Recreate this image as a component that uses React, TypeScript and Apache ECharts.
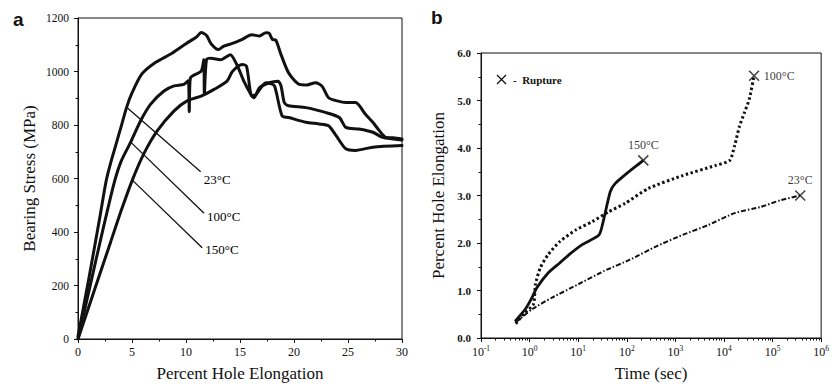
import React, { useEffect, useRef } from "react";
import * as echarts from "echarts";

// ---------- Panel a: Bearing stress vs percent hole elongation ----------
const stressXTicks = [0, 5, 10, 15, 20, 25, 30];
const stressYTicks = [0, 200, 400, 600, 800, 1000, 1200];

const curve23C: number[][] = [
  [0, 10], [1.0, 225], [2.0, 450], [2.6, 590], [3.0, 655], [3.5, 725], [4.0, 795], [4.5, 866], [5.0, 920], [5.9, 990],
  [7.1, 1032], [8.7, 1068], [10.0, 1104], [11.0, 1130],
  [11.4, 1146], [11.9, 1135], [12.3, 1105], [13.0, 1082], [13.5, 1095], [14.3, 1105], [15.1, 1118],
  [16.1, 1137], [16.8, 1133], [17.4, 1145], [17.7, 1143], [18.0, 1120], [18.3, 1118], [18.8, 1063],
  [19.5, 995], [20.5, 952], [21.2, 950], [22.0, 958], [22.6, 945], [23.2, 902], [24.0, 890],
  [24.8, 884], [25.7, 884], [26.6, 841], [27.3, 810], [27.9, 779], [28.5, 754], [29.2, 752], [30, 748],
];
const curve100C: number[][] = [
  [0, 0], [1.1, 195], [2.2, 390], [3.33, 581], [4.0, 665], [4.88, 736], [5.8, 816], [6.73, 878],
  [7.96, 927], [8.9, 946], [9.8, 952], [10.2, 965], [10.3, 850], [10.4, 975], [11.4, 1001],
  [11.65, 1045], [11.7, 915], [11.9, 1045], [12.3, 1050], [13.2, 1044], [14.1, 1063], [14.7, 1026],
  [15.4, 960], [16.0, 915], [16.3, 902], [16.8, 939], [17.7, 958], [18.5, 964], [18.8, 946],
  [19.1, 884], [19.5, 872], [21.1, 865], [22.9, 847], [24.2, 828], [24.8, 791], [26.0, 785],
  [27.3, 773], [28.2, 754], [30, 744],
];
const curve150C: number[][] = [
  [0, 0], [1.5, 180], [3.0, 360], [4.0, 480], [5.03, 594], [6.1, 693], [7.35, 779], [8.9, 853],
  [10.1, 890], [11.4, 908], [12.6, 933], [13.8, 964], [14.3, 1000], [15.2, 1026], [15.6, 1020],
  [16.1, 908], [16.5, 915], [17.4, 958], [17.8, 955], [18.2, 946], [18.9, 834], [19.5, 828],
  [21.1, 810], [22.3, 804], [23.2, 797], [23.9, 760], [24.8, 711], [25.7, 705], [27.3, 717], [30, 723],
];
const leaderNames = ["23°C", "100°C", "150°C"];
const leader23: number[][] = [[4.5, 866], [11.36, 625]];
const leader100: number[][] = [[4.88, 736], [11.67, 470]];
const leader150: number[][] = [[5.03, 594], [11.5, 341]];

// ---------- Panel b: Percent hole elongation vs time ----------
const timeExponents = [-1, 0, 1, 2, 3, 4, 5, 6];
const elongTicks = [0, 1, 2, 3, 4, 5, 6];

const creep150C: number[][] = [
  [0.5, 0.35], [0.82, 0.61], [1.12, 0.85], [1.41, 1.06], [2.43, 1.375], [4.17, 1.58], [6.6, 1.76],
  [12.3, 1.97], [26.9, 2.17], [33.9, 2.52], [45.7, 3.08], [57.5, 3.25], [107, 3.49], [219, 3.74],
];
const creep100C: number[][] = [
  [0.52, 0.3], [0.76, 0.51], [1.2, 0.71], [1.32, 1.13], [1.66, 1.48], [2.43, 1.76], [4.17, 2.03],
  [9.1, 2.28], [19.5, 2.45], [42.7, 2.66], [91, 2.83], [280, 3.15], [1413, 3.42], [6600, 3.63],
  [13200, 3.74], [16600, 4.05], [20900, 4.46], [26300, 4.74], [33100, 5.02], [41700, 5.52],
];
const creep23C: number[][] = [
  [0.52, 0.33], [1.14, 0.61], [2.9, 0.85], [10, 1.13], [34, 1.41], [117, 1.65], [407, 1.93],
  [1413, 2.17], [4790, 2.38], [16600, 2.63], [57500, 2.76], [145000, 2.9], [372000, 3.0],
];
const ruptureLabels = ["150°C", "100°C", "23°C"];
const rupturePoints: number[][] = [[219, 3.74], [41700, 5.52], [372000, 3.0]];
const ruptureLabelPos = ["top", "right", "top"];
const legendText = "-  Rupture";

const SERIF = '"Liberation Serif", "Times New Roman", serif';
const SANS = '"Liberation Sans", Arial, sans-serif';
const BLACK = "#111";

function minorLogTicks(): number[] {
  const out: number[] = [];
  for (let e = timeExponents[0]; e < timeExponents[timeExponents.length - 1]; e++) {
    for (let k = 2; k <= 9; k++) out.push(Math.log10(k * Math.pow(10, e)));
  }
  return out;
}

export default function App() {
  const ref = useRef<HTMLDivElement>(null);
  useEffect(() => {
    if (!ref.current) return;
    const chart = echarts.init(ref.current, undefined, { renderer: "svg" });
    const axisLine = { show: true, onZero: false, lineStyle: { color: BLACK, width: 1 } };
    const tick = { show: true, length: 4, lineStyle: { color: BLACK, width: 1 } };
    const minor = { show: true, splitNumber: 2, length: 2.5, lineStyle: { color: BLACK, width: 1 } };
    const thick = { color: BLACK, width: 3, join: "round", cap: "round" };
    const blackItem = { color: BLACK };

    const leaderSeries = (data: number[][], name: string, offset: number[]) => ({
      type: "line",
      xAxisIndex: 0,
      yAxisIndex: 0,
      showSymbol: false,
      symbol: "none",
      itemStyle: blackItem,
      lineStyle: { color: BLACK, width: 1.3 },
      data,
      endLabel: {
        show: true,
        distance: 3,
        offset,
        formatter: name,
        fontFamily: SERIF,
        fontSize: 13,
        color: "#000",
      },
      silent: true,
    });

    const option: any = {
      animation: false,
      backgroundColor: "#fff",
      color: [BLACK],
      grid: [
        { left: 78, top: 18, width: 324, height: 324, show: true, borderColor: BLACK, borderWidth: 1, backgroundColor: "transparent" },
        { left: 481, top: 53, width: 347, height: 288, show: true, borderColor: BLACK, borderWidth: 1, backgroundColor: "transparent" },
      ],
      xAxis: [
        {
          gridIndex: 0,
          type: "value",
          min: stressXTicks[0],
          max: stressXTicks[stressXTicks.length - 1],
          interval: stressXTicks[1] - stressXTicks[0],
          name: "Percent Hole Elongation",
          nameLocation: "middle",
          nameGap: 26,
          nameTextStyle: { fontFamily: SERIF, fontSize: 17, color: BLACK },
          axisLine,
          axisTick: tick,
          minorTick: minor,
          axisLabel: { fontFamily: SERIF, fontSize: 12, color: BLACK, margin: 7 },
          splitLine: { show: false },
        },
        {
          gridIndex: 1,
          type: "log",
          logBase: 10,
          min: Math.pow(10, timeExponents[0]),
          max: Math.pow(10, timeExponents[timeExponents.length - 1]),
          name: "Time (sec)",
          nameLocation: "middle",
          nameGap: 27,
          nameTextStyle: { fontFamily: SERIF, fontSize: 17, color: BLACK },
          axisLine,
          axisTick: tick,
          axisLabel: {
            margin: 6,
            formatter: (v: number) => `{b|10}{s|${Math.round(Math.log10(v))}}`,
            rich: {
              b: { fontFamily: SERIF, fontSize: 12, color: BLACK, lineHeight: 15 },
              s: { fontFamily: SERIF, fontSize: 7.5, color: BLACK, verticalAlign: "top", lineHeight: 8 },
            },
          },
          splitLine: { show: false },
        },
        {
          gridIndex: 1,
          type: "value",
          min: timeExponents[0],
          max: timeExponents[timeExponents.length - 1],
          position: "bottom",
          axisLine: { show: false, onZero: false },
          axisLabel: { show: false },
          splitLine: { show: false },
          axisTick: { show: true, length: 2.5, customValues: minorLogTicks(), lineStyle: { color: BLACK, width: 1 } },
        },
      ],
      yAxis: [
        {
          gridIndex: 0,
          type: "value",
          min: stressYTicks[0],
          max: stressYTicks[stressYTicks.length - 1],
          interval: stressYTicks[1] - stressYTicks[0],
          name: "Bearing Stress (MPa)",
          nameLocation: "middle",
          nameGap: 40,
          nameTextStyle: { fontFamily: SERIF, fontSize: 17, color: BLACK },
          axisLine,
          axisTick: tick,
          minorTick: minor,
          axisLabel: { fontFamily: SERIF, fontSize: 11.5, color: BLACK, margin: 9, formatter: (v: number) => String(v) },
          splitLine: { show: false },
        },
        {
          gridIndex: 1,
          type: "value",
          min: elongTicks[0],
          max: elongTicks[elongTicks.length - 1],
          interval: elongTicks[1] - elongTicks[0],
          name: "Percent Hole Elongation",
          nameLocation: "middle",
          nameGap: 34,
          nameTextStyle: { fontFamily: SERIF, fontSize: 17, color: BLACK },
          axisLine,
          axisTick: tick,
          minorTick: minor,
          axisLabel: {
            fontFamily: SERIF,
            fontSize: 11,
            fontWeight: "bold",
            color: BLACK,
            margin: 10,
            formatter: (v: number) => v.toFixed(1),
          },
          splitLine: { show: false },
        },
      ],
      series: [
        { type: "line", name: "23°C", xAxisIndex: 0, yAxisIndex: 0, showSymbol: false, symbol: "none", smooth: 0.25, itemStyle: blackItem, lineStyle: thick, data: curve23C },
        { type: "line", name: "100°C", xAxisIndex: 0, yAxisIndex: 0, showSymbol: false, symbol: "none", smooth: 0.25, itemStyle: blackItem, lineStyle: thick, data: curve100C },
        { type: "line", name: "150°C", xAxisIndex: 0, yAxisIndex: 0, showSymbol: false, symbol: "none", smooth: 0.25, itemStyle: blackItem, lineStyle: thick, data: curve150C },
        leaderSeries(leader23, leaderNames[0], [0, 8]),
        leaderSeries(leader100, leaderNames[1], [0, 3]),
        leaderSeries(leader150, leaderNames[2], [0, 2]),
        {
          type: "line", name: "150°C creep", xAxisIndex: 1, yAxisIndex: 1, showSymbol: false, symbol: "none", smooth: 0.2,
          itemStyle: blackItem, lineStyle: { color: BLACK, width: 2.8, join: "round" }, data: creep150C,
        },
        {
          type: "line", name: "100°C creep", xAxisIndex: 1, yAxisIndex: 1, showSymbol: false, symbol: "none", smooth: 0.2,
          itemStyle: blackItem, lineStyle: { color: BLACK, width: 3, type: [2.5, 2.5] }, data: creep100C,
        },
        {
          type: "line", name: "23°C creep", xAxisIndex: 1, yAxisIndex: 1, showSymbol: false, symbol: "none", smooth: 0.2,
          itemStyle: blackItem, lineStyle: { color: BLACK, width: 2, type: [5, 2, 1.5, 2] }, data: creep23C,
        },
        {
          type: "scatter", name: "Rupture", xAxisIndex: 1, yAxisIndex: 1,
          symbol: "path://M0,0L10,10M10,0L0,10", symbolSize: 10,
          itemStyle: { color: "transparent", borderColor: BLACK, borderWidth: 1.5 },
          data: rupturePoints.map((p, i) => ({
            value: p,
            label: {
              show: true,
              position: ruptureLabelPos[i],
              distance: 4,
              formatter: ruptureLabels[i],
              fontFamily: SERIF,
              fontSize: 12,
              color: "#000",
            },
          })),
        },
      ],
      graphic: [
        { type: "text", x: 13, y: 29, style: { text: "a", font: `bold 19px ${SANS}`, fill: BLACK, textVerticalAlign: "bottom", verticalAlign: "bottom" } },
        { type: "text", x: 431, y: 27, style: { text: "b", font: `bold 19px ${SANS}`, fill: BLACK, textVerticalAlign: "bottom", verticalAlign: "bottom" } },
        { type: "line", shape: { x1: 497, y1: 75, x2: 506, y2: 84 }, style: { stroke: BLACK, lineWidth: 1.2 } },
        { type: "line", shape: { x1: 506, y1: 75, x2: 497, y2: 84 }, style: { stroke: BLACK, lineWidth: 1.2 } },
        { type: "text", x: 513, y: 80, style: { text: legendText, font: `bold 11px ${SERIF}`, fill: BLACK, textVerticalAlign: "middle", verticalAlign: "middle" } },
      ],
    };
    chart.setOption(option);
    return () => chart.dispose();
  }, []);
  return <div ref={ref} style={{ position: "absolute", left: 0, top: 0, width: 832, height: 387 }} />;
}
